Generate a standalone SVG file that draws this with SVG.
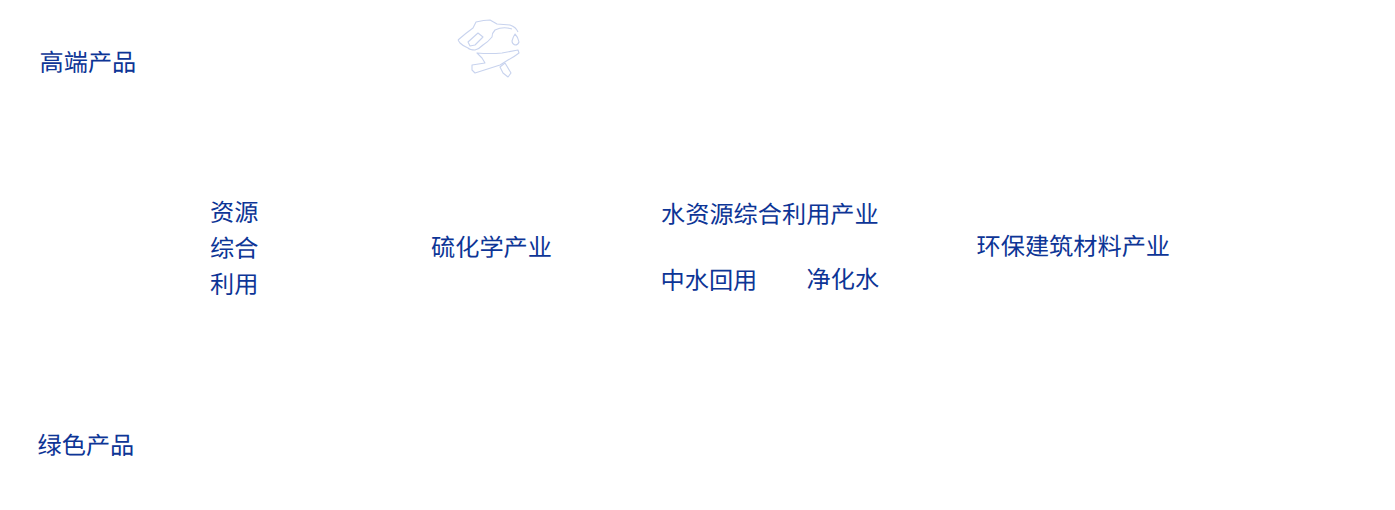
<svg xmlns="http://www.w3.org/2000/svg" width="1395" height="510" viewBox="0 0 1395 510">
<style>
text{font-family:"Noto Sans CJK SC","Noto Sans",sans-serif;font-size:24.200px;font-weight:400;fill:#0d3596;text-rendering:geometricPrecision}
.o{fill:none;stroke:#c8d3ee;stroke-width:1.100;stroke-linejoin:round}
</style>
<rect width="1395" height="510" fill="#fff"/>
<g id="n1"><text x="39.500" y="71">高端产品</text></g>
<g id="n2"><text x="37.500" y="454">绿色产品</text></g>
<g id="n3"><text x="210" y="221">资源</text><text x="210" y="257">综合</text><text x="210" y="293">利用</text></g>
<g id="n4"><text x="431" y="256">硫化学产业</text></g>
<g id="n5"><text x="661" y="223">水资源综合利用产业</text></g>
<g id="n6"><text x="660.500" y="289">中水回用</text></g>
<g id="n7"><text x="806.500" y="288">净化水</text></g>
<g id="n8"><text x="976.500" y="255">环保建筑材料产业</text></g>
<g id="n9">
<path class="o" d="M458 40Q466 33 473 28Q475 24 476 22Q484 20 490 20L497 24L510 25Q516 27 518 32M512 29Q503 26 495 30Q492 33 492 37Q488 42 483 45Q479 49 475 50Q470 50 468 48Q463 46 460 43L458 40"/>
<path class="o" d="M468 42L478 33L483 37L475 45L470 46Z"/>
<path class="o" d="M515 34Q518 37 519 42Q518 45 515 45Q512 44 512 41Q513 37 515 34Z"/>
<path class="o" d="M477 53Q490 54 502 53L518 50L519 53Q514 57 508 60L500 65L475 73L472 70L472 65L485 63L482 58Z"/>
<path class="o" d="M500 67L505 63L511 73L508 77L503 73Z"/>
</g>
<g id="connectors"/>
</svg>
